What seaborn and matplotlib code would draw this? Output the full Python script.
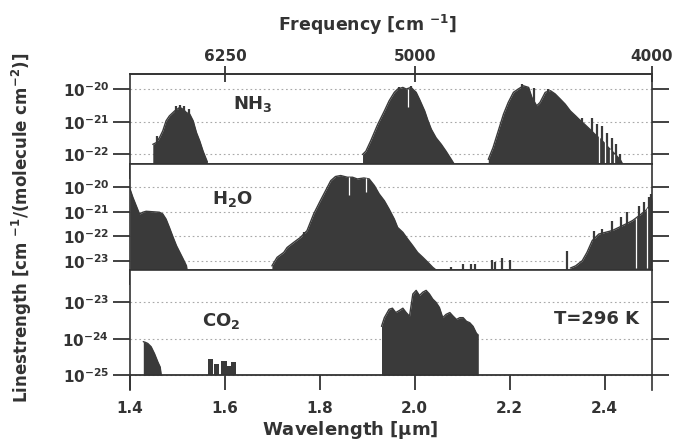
import matplotlib
matplotlib.use("Agg")
import matplotlib.pyplot as plt
from matplotlib.ticker import NullLocator
import seaborn as sns

# wavelength [um] and log10 linestrength [cm-1/(molecule cm-2)]
nh3_wl_1 = [1.448, 1.455, 1.462, 1.469, 1.476, 1.483, 1.494, 1.505, 1.512, 1.519,
            1.526, 1.533, 1.540, 1.547, 1.554, 1.563]
nh3_lg_1 = [-21.69, -21.64, -21.49, -21.28, -20.97, -20.82, -20.67, -20.56, -20.62, -20.72,
            -20.77, -20.97, -21.33, -21.59, -21.90, -22.23]
nh3_wl_2 = [1.890, 1.897, 1.907, 1.922, 1.936, 1.946, 1.957, 1.964, 1.975, 1.982,
            1.992, 2.003, 2.010, 2.021, 2.028, 2.035, 2.045, 2.056, 2.066, 2.077, 2.083]
nh3_lg_2 = [-22.00, -21.90, -21.59, -21.08, -20.67, -20.36, -20.10, -20.00, -19.95, -20.00,
            -19.95, -20.10, -20.31, -20.67, -20.97, -21.23, -21.49, -21.69, -21.90, -22.15, -22.29]
nh3_wl_3 = [2.155, 2.165, 2.176, 2.187, 2.197, 2.208, 2.218, 2.229, 2.240, 2.247,
            2.257, 2.264, 2.275, 2.286, 2.296, 2.307, 2.317, 2.328, 2.339, 2.346,
            2.356, 2.367, 2.381, 2.395, 2.409, 2.423, 2.434, 2.438]
nh3_lg_3 = [-22.15, -21.79, -21.28, -20.77, -20.41, -20.10, -20.00, -19.90, -19.95, -20.26,
            -20.51, -20.41, -20.10, -20.05, -20.15, -20.31, -20.46, -20.67, -20.82, -20.92,
            -21.05, -21.20, -21.40, -21.58, -21.80, -22.00, -22.18, -22.29]
nh3_spike_wl = [1.457, 1.496, 1.505, 1.514, 1.524, 1.967, 1.993, 2.226, 2.252, 2.280,
                2.353, 2.374, 2.385, 2.395, 2.406, 2.416, 2.425, 2.432]
nh3_spike_lg = [-21.45, -20.52, -20.48, -20.52, -20.60, -19.93, -19.92, -19.85, -19.98, -20.00,
                -20.87, -20.87, -21.08, -21.13, -21.33, -21.49, -21.69, -22.00]
nh3_gap_wl = [1.985, 2.389, 2.401, 2.412, 2.421]
nh3_gap_top = [-20.00, -21.45, -21.62, -21.82, -21.98]
nh3_gap_bot = [-20.55, -22.25, -22.25, -22.25, -22.25]

h2o_wl_1 = [1.400, 1.406, 1.413, 1.420, 1.427, 1.434, 1.448, 1.462, 1.469, 1.476,
            1.483, 1.491, 1.498, 1.505, 1.512, 1.519, 1.520]
h2o_lg_1 = [-20.07, -20.41, -20.75, -21.09, -21.02, -20.98, -21.00, -21.02, -21.09, -21.30,
            -21.64, -22.05, -22.39, -22.66, -22.93, -23.21, -23.38]
h2o_wl_2 = [1.699, 1.710, 1.724, 1.731, 1.745, 1.759, 1.773, 1.787, 1.801, 1.812,
            1.823, 1.833, 1.844, 1.858, 1.869, 1.879, 1.893, 1.904, 1.915, 1.925,
            1.936, 1.946, 1.957, 1.964, 1.975, 1.985, 1.996, 2.006, 2.017, 2.028,
            2.038, 2.045]
h2o_lg_2 = [-23.21, -22.86, -22.66, -22.46, -22.25, -22.05, -21.77, -21.09, -20.55, -20.14,
            -19.73, -19.56, -19.52, -19.59, -19.59, -19.66, -19.62, -19.66, -19.93, -20.27,
            -20.55, -20.89, -21.30, -21.64, -21.84, -22.11, -22.39, -22.66, -22.86, -23.07,
            -23.27, -23.38]
h2o_wl_3 = [2.328, 2.339, 2.353, 2.363, 2.374, 2.388, 2.402, 2.416, 2.430, 2.445,
            2.459, 2.473, 2.487, 2.498, 2.500]
h2o_lg_3 = [-23.30, -23.21, -23.00, -22.66, -22.18, -21.91, -21.84, -21.77, -21.64, -21.50,
            -21.36, -21.16, -20.95, -20.68, -20.41]
h2o_spike_wl = [1.766, 1.784, 2.077, 2.102, 2.119, 2.127, 2.162, 2.169, 2.183, 2.201,
                2.321, 2.377, 2.395, 2.416, 2.434, 2.448, 2.473, 2.483, 2.493, 2.4985]
h2o_spike_lg = [-21.84, -21.43, -23.25, -23.14, -23.12, -23.12, -22.97, -23.07, -22.89, -22.97,
                -22.62, -21.77, -21.71, -21.39, -21.23, -21.02, -20.75, -20.61, -20.41, -20.27]
h2o_gap_wl = [1.862, 1.897, 2.466, 2.490]
h2o_gap_top = [-19.60, -19.64, -21.25, -20.85]
h2o_gap_bot = [-20.30, -20.20, -23.30, -23.30]

co2_wl_1 = [1.428, 1.4325, 1.4375, 1.4445, 1.4516, 1.4587, 1.4636, 1.4657]
co2_lg_1 = [-24.08, -24.10, -24.13, -24.22, -24.41, -24.64, -24.78, -25.00]
co2_bar_lo = [1.5647, 1.5767, 1.5908, 1.6049, 1.6134]
co2_bar_hi = [1.5753, 1.5880, 1.6035, 1.6120, 1.6233]
co2_bar_lg = [-24.57, -24.69, -24.60, -24.74, -24.64]
co2_wl_3 = [1.930, 1.936, 1.946, 1.953, 1.960, 1.968, 1.975, 1.982, 1.989, 1.996,
            2.003, 2.010, 2.017, 2.024, 2.031, 2.038, 2.045, 2.052, 2.059, 2.066,
            2.074, 2.081, 2.088, 2.095, 2.102, 2.109, 2.116, 2.123, 2.130, 2.134]
co2_lg_3 = [-23.66, -23.42, -23.19, -23.16, -23.28, -23.22, -23.16, -23.28, -23.38, -22.77,
            -22.67, -22.81, -22.72, -22.67, -22.77, -22.91, -23.00, -23.14, -23.42, -23.33,
            -23.28, -23.38, -23.47, -23.42, -23.42, -23.52, -23.56, -23.66, -23.85, -23.90]

x_ticks = [1.4, 1.6, 1.8, 2.0, 2.2, 2.4]
freq_ticks = [6250, 5000, 4000]

ink = "#333333"
fill = "#3a3a3a"

sns.set_style("ticks")
plt.rcParams["font.family"] = ["DejaVu Sans"]
plt.rcParams["mathtext.fontset"] = "dejavusans"
plt.rcParams["text.color"] = ink
plt.rcParams["axes.edgecolor"] = ink
plt.rcParams["xtick.color"] = ink
plt.rcParams["ytick.color"] = ink

fig = plt.figure(figsize=(6.75, 4.42), dpi=100)
left, width = 0.1926, 0.7733
ax1 = fig.add_axes([left, 0.6290, width, 0.2036])
ax2 = fig.add_axes([left, 0.3891, width, 0.2398])
ax3 = fig.add_axes([left, 0.1176, width, 0.2715])


def setup(ax, lo, hi, exps):
    ax.set_yscale("log")
    ax.set_xlim(1.4, 2.5)
    ax.set_ylim(10.0 ** lo, 10.0 ** hi)
    ax.set_yticks([10.0 ** e for e in exps])
    ax.set_yticklabels([r"$\mathbf{10^{%d}}$" % e for e in exps])
    ax.yaxis.set_minor_locator(NullLocator())
    ax.set_xticks(x_ticks)
    ax.grid(axis="y", ls=(0, (1.5, 2.5)), color="#a8a8a8", lw=0.8)
    ax.grid(axis="x", visible=False)
    ax.tick_params(axis="y", direction="out", length=12, width=1.3,
                   left=True, right=True, labelsize=11, pad=3)
    for s in ax.spines.values():
        s.set_linewidth(1.2)
    ax.set_xlabel("")
    ax.set_ylabel("")


def band(ax, wl, lg, floor):
    vals = [10.0 ** v for v in lg]
    ax.fill_between(wl, floor, vals, color=fill, lw=0)
    sns.lineplot(x=wl, y=vals, ax=ax, color=fill, lw=1.0, estimator=None, sort=False)


def spikes(ax, wl, lg, floor):
    ax.vlines(wl, floor, [10.0 ** v for v in lg], color=fill, lw=1.6)


def gaps(ax, wl, top, bot):
    ax.vlines(wl, [10.0 ** v for v in bot], [10.0 ** v for v in top], color="white", lw=0.9)


# NH3
setup(ax1, -22.29, -19.54, [-20, -21, -22])
f1 = 10.0 ** -22.29
for w, l in [(nh3_wl_1, nh3_lg_1), (nh3_wl_2, nh3_lg_2), (nh3_wl_3, nh3_lg_3)]:
    band(ax1, w, l, f1)
spikes(ax1, nh3_spike_wl, nh3_spike_lg, f1)
gaps(ax1, nh3_gap_wl, nh3_gap_top, nh3_gap_bot)
ax1.tick_params(axis="x", direction="out", length=11, width=1.3, labelbottom=False)
ax1.text(1.618, 10 ** -20.46, r"NH$_\mathbf{3}$", fontsize=13, fontweight="bold", va="center")

sec = ax1.secondary_xaxis("top", functions=(lambda x: 1e4 / x, lambda f: 1e4 / f))
sec.set_xticks(freq_ticks)
sec.set_xticklabels([str(v) for v in freq_ticks], fontweight="bold")
sec.xaxis.set_minor_locator(NullLocator())
sec.tick_params(direction="inout", length=12, width=1.3, labelsize=11, pad=1)
sec.spines["top"].set_linewidth(1.2)

# H2O
setup(ax2, -23.38, -19.05, [-20, -21, -22, -23])
f2 = 10.0 ** -23.38
for w, l in [(h2o_wl_1, h2o_lg_1), (h2o_wl_2, h2o_lg_2), (h2o_wl_3, h2o_lg_3)]:
    band(ax2, w, l, f2)
spikes(ax2, h2o_spike_wl, h2o_spike_lg, f2)
gaps(ax2, h2o_gap_wl, h2o_gap_top, h2o_gap_bot)
ax2.tick_params(axis="x", direction="out", length=11, width=1.3, labelbottom=False)
ax2.text(1.572, 10 ** -20.48, r"H$_\mathbf{2}$O", fontsize=13, fontweight="bold", va="center")

# CO2
setup(ax3, -25.41, -22.11, [-23, -24, -25])
f3 = 10.0 ** -25.0
band(ax3, co2_wl_1, co2_lg_1, f3)
band(ax3, co2_wl_3, co2_lg_3, f3)
ax3.bar(co2_bar_lo, [10.0 ** v - f3 for v in co2_bar_lg], bottom=f3,
        width=[h - l for l, h in zip(co2_bar_lo, co2_bar_hi)], align="edge", color=fill, lw=0)
ax3.axhline(f3, color=ink, lw=1.3)
ax3.spines["bottom"].set_visible(False)
ax3.tick_params(axis="x", direction="in", length=11, width=1.3, labelsize=11, pad=8)
ax3.set_xticklabels(["%.1f" % v for v in x_ticks], fontweight="bold")
ax3.text(1.551, 10 ** -23.52, r"CO$_\mathbf{2}$", fontsize=13, fontweight="bold", va="center")
ax3.text(2.473, 10 ** -23.47, "T=296 K", fontsize=13, fontweight="bold", va="center", ha="right")

fig.text(0.545, 0.943, r"Frequency [cm $^\mathbf{-1}$]", fontsize=12.5, fontweight="bold",
         ha="center", va="center")
fig.text(0.519, 0.027, r"Wavelength [$\mathbf{\mu}$m]", fontsize=13, fontweight="bold",
         ha="center", va="center")
fig.text(0.033, 0.484, r"Linestrength [cm $^\mathbf{-1}$/(molecule cm$^\mathbf{-2}$)]",
         fontsize=12, fontweight="bold", rotation=90, ha="center", va="center")

fig.savefig("out.png", dpi=100)
